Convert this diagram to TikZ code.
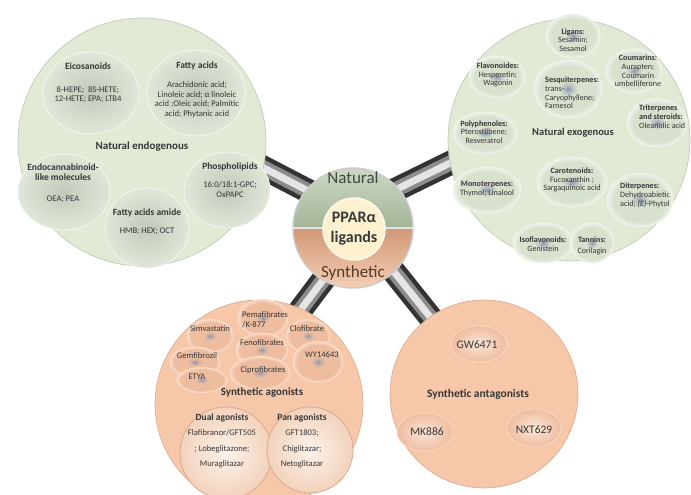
\documentclass[tikz,border=0pt]{standalone}
\usepackage{fontspec}
\setmainfont{Carlito}
\usetikzlibrary{shapes.geometric}

\pgfdeclarelayer{bg}
\pgfsetlayers{bg,main}

\definecolor{greenbg}{RGB}{226,234,214}
\definecolor{greenedge}{RGB}{186,198,174}
\definecolor{ellin}{RGB}{194,201,188}
\definecolor{ellout}{RGB}{224,230,216}
\definecolor{exoin}{RGB}{216,224,206}
\definecolor{exoout}{RGB}{238,242,232}
\definecolor{blobc}{RGB}{138,148,172}
\definecolor{peach}{RGB}{246,199,169}
\definecolor{peachedge}{RGB}{216,170,142}
\definecolor{agin}{RGB}{238,189,160}
\definecolor{agout}{RGB}{250,216,194}
\definecolor{creamin}{RGB}{253,243,234}
\definecolor{creamout}{RGB}{242,210,188}
\definecolor{hubtop}{RGB}{204,216,194}
\definecolor{hubmid}{RGB}{164,180,152}
\definecolor{hubsal}{RGB}{210,152,120}
\definecolor{hubbot}{RGB}{244,206,180}
\definecolor{cream}{RGB}{253,241,208}
\definecolor{txt}{RGB}{55,55,55}
\definecolor{natc}{RGB}{58,74,64}
\definecolor{sync}{RGB}{84,56,40}

\pgfdeclareradialshading{exoblob}{\pgfpoint{0bp}{0bp}}{color(0bp)=(blobc); color(3bp)=(blobc!45!exoin); color(7bp)=(exoin); color(20bp)=(exoin); color(25bp)=(exoout); color(50bp)=(exoout)}
\pgfdeclareradialshading{agblob}{\pgfpoint{0bp}{0bp}}{color(0bp)=(blobc); color(3bp)=(blobc!40!agin); color(7bp)=(agin); color(21bp)=(agin); color(25bp)=(agout); color(50bp)=(agout)}

\newcommand\grp[1]{{\bfseries\fontsize{9.5}{10.5}\selectfont #1}}

\tikzset{
  bigcirc/.style={circle, inner sep=0pt, line width=0.6pt},
  endoell/.style={ellipse, inner sep=0pt, inner color=ellin, outer color=ellout, draw=white!60!greenbg, line width=0.8pt},
  exoell/.style={ellipse, inner sep=0pt, shade, shading=exoblob, draw=white!50!greenbg, line width=0.8pt},
  agell/.style={ellipse, inner sep=0pt, shade, shading=agblob, draw=white!40!peach, line width=0.8pt},
  antell/.style={ellipse, inner sep=0pt, inner color=white!55!peach, outer color=agin, draw=white!30!peach, line width=0.8pt},
  subcirc/.style={circle, inner sep=0pt, inner color=creamin, outer color=creamout, draw=peachedge, line width=0.8pt},
  lbl/.style={align=center, inner sep=0pt, text=txt, font=\fontsize{8.6}{9.6}\selectfont},
  exolbl/.style={lbl, font=\fontsize{8.1}{8.7}\selectfont},
  head/.style={inner sep=0pt, text=txt, font=\bfseries\fontsize{11}{12}\selectfont},
  rod/.style={draw=black!80, line width=24pt, shorten <=-10pt, shorten >=-10pt,
    postaction={draw=black!45, line width=15pt, shorten <=-10pt, shorten >=-10pt},
    postaction={draw=white!90!black, line width=7pt, shorten <=-10pt, shorten >=-10pt}}
}

\begin{document}
\begin{tikzpicture}[x=1pt,y=1pt]
\useasboundingbox (0,0) rectangle (691,495);

% natural endogenous
\node[bigcirc, fill=greenbg, draw=greenedge, minimum size=248pt] (endo) at (142,353) {};
\node[endoell, minimum width=96pt, minimum height=82pt] (eico) at (91,402) {};
\node[endoell, minimum width=98pt, minimum height=86pt] (fatty) at (196,402) {};
\node[endoell, minimum width=92pt, minimum height=76pt] (endoc) at (64,303) {};
\node[endoell, minimum width=86pt, minimum height=76pt] (phos) at (227,305) {};
\node[endoell, minimum width=84pt, minimum height=80pt] (amide) at (147,267) {};
\node[lbl] (eicot) at (88,412) {\grp{Eicosanoids}\\[13pt]8-HEPE;\ \ 8S-HETE;\\12-HETE; EPA; LTB4};
\node[lbl] (fattyt) at (197,405) {\grp{Fatty acids}\\[9pt]Arachidonic acid;\\Linoleic acid; α linoleic\\acid ;Oleic acid; Palmitic\\acid; Phytanic acid};
\node[lbl] (endoct) at (63,312) {\grp{Endocannabinoid-}\\[1pt]\grp{like molecules}\\[11pt]OEA; PEA};
\node[lbl] (phost) at (230,315) {\grp{Phospholipids}\\[9pt]16:0/18:1-GPC;\\OxPAPC};
\node[lbl] (amidet) at (147,273) {\grp{Fatty acids amide}\\[8pt]HMB; HEX; OCT};
\node[head] (endol) at (142,348) {Natural endogenous};

% natural exogenous
\node[bigcirc, fill=greenbg, draw=greenedge, minimum size=242pt] (exo) at (569,355) {};
\foreach \n/\x/\y/\w/\h in {lig/573/459/54/44, coum/634/424/56/44, sesq/568/406/68/58,
  flav/497/418/56/42, poly/485/362/64/42, trit/657/372/60/48, caro/572/313/70/50,
  mono/487/305/68/46, dite/640/295/66/54, isof/543/252/60/40, tann/592/252/44/40}
  \node[exoell, minimum width=\w pt, minimum height=\h pt] (\n) at (\x,\y) {};
\node[exolbl] (ligt) at (573,455) {\textbf{Ligans:}\\Sesamin;\\Sesamol};
\node[exolbl] (flavt) at (498,420) {\textbf{Flavonoides:}\\Hesperetin;\\Wagonin};
\node[exolbl] (coumt) at (638,424) {\textbf{Coumarins:}\\Aurapten;\\Coumarin\\umbelliferone};
\node[exolbl, align=left, anchor=north west] (sesqt) at (545,418) {\textbf{Sesquiterpenes:}\\trans-\\Caryophyllene;\\Farnesol};
\node[exolbl, align=left, anchor=north west] (tritt) at (639,390) {\textbf{Triterpenes}\\\textbf{and steroids:}\\Oleanolic acid};
\node[exolbl] (polyt) at (484,363) {\textbf{Polyphenoles:}\\Pterostilbene;\\Resveratrol};
\node[exolbl] (carot) at (572,315) {\textbf{Carotenoids:}\\Fucoxanthin ;\\Sargaquinoic acid};
\node[exolbl] (monot) at (487,306) {\textbf{Monoterpenes:}\\Thymol; Linalool};
\node[exolbl, align=left, anchor=north west] (ditet) at (620,312) {\textbf{Diterpenes:}\\Dehydroabietic\\acid; \textit{(E)}-Phytol};
\node[exolbl] (isoft) at (543,251) {\textbf{Isoflavonoids:}\\Genistein};
\node[exolbl] (tannt) at (592,249) {\textbf{Tannins:}\\[3pt]Corilagin};
\node[head, font=\bfseries\fontsize{10.5}{12}\selectfont] (exol) at (573,362) {Natural exogenous};

% synthetic agonists
\node[bigcirc, fill=peach, draw=peachedge, minimum size=208pt] (agon) at (259,91) {};
\foreach \n/\x/\y/\w/\h in {pema/263/177/50/37, simv/210/159/46/33, clof/308/159/44/33,
  feno/262/145/52/34, gemf/195/133/50/30, wy/318/133/50/41, cipr/260/122/60/33, etya/202/115/50/25}
  \node[agell, minimum width=\w pt, minimum height=\h pt] (\n) at (\x,\y) {};
\node[lbl, align=left, anchor=west] (pemat) at (242,175) {Pemafibrates\\/K-877};
\node[lbl] (simvt) at (210,166) {Simvastatin};
\node[lbl] (cloft) at (307,166) {Clofibrate};
\node[lbl] (fenot) at (262,152) {Fenofibrates};
\node[lbl] (gemft) at (197,139) {Gemfibrozil};
\node[lbl] (wyt) at (322,140) {WY14643};
\node[lbl] (ciprt) at (263,125) {Ciprofibrates};
\node[lbl] (etyat) at (197,118) {ETYA};
\node[head] (agonl) at (262,102) {Synthetic agonists};
\node[subcirc, minimum size=92pt] (dual) at (226,42) {};
\node[subcirc, minimum size=86pt] (pan) at (310,45) {};
\node[lbl] (dualt) at (222,54) {\grp{Dual agonists}\\[6pt]Flafibranor/GFT505\\[6pt]; Lobeglitazone;\\[6pt]Muraglitazar};
\node[lbl] (pant) at (302,54) {\grp{Pan agonists}\\[6pt]GFT1803;\\[6pt]Chiglitazar;\\[6pt]Netoglitazar};

% synthetic antagonists
\node[bigcirc, fill=peach, draw=peachedge, minimum size=188pt] (antag) at (484,101) {};
\node[antell, minimum width=56pt, minimum height=36pt] (gw) at (479,151) {};
\node[antell, minimum width=56pt, minimum height=38pt] (mk) at (425,63) {};
\node[antell, minimum width=54pt, minimum height=38pt] (nxt) at (534,67) {};
\node[lbl, font=\fontsize{11.5}{12}\selectfont] (gwt) at (477,150) {GW6471};
\node[lbl, font=\fontsize{11.5}{12}\selectfont] (mkt) at (427,63) {MK886};
\node[lbl, font=\fontsize{11.5}{12}\selectfont] (nxtt) at (534,65) {NXT629};
\node[head, font=\bfseries\fontsize{11.5}{12}\selectfont] (antagl) at (478,101) {Synthetic antagonists};

% hub
\shade[top color=hubtop, bottom color=hubmid] (293,267) arc[start angle=180, end angle=0, radius=60] -- cycle;
\shade[top color=hubsal, bottom color=hubbot] (293,267) arc[start angle=180, end angle=360, radius=60] -- cycle;
\node[circle, draw=gray!40, line width=1.5pt, minimum size=120pt, inner sep=0pt] (hub) at (353,267) {};
\draw[white!80!gray, line width=1.2pt] (hub.west) -- (hub.east);
\node[circle, fill=cream, draw=white!60!cream, line width=1.5pt, minimum size=62pt, inner sep=0pt, align=center,
  text=txt, font=\bfseries\fontsize{16}{20}\selectfont] (ppar) at (354,266) {PPARα\\ligands};
\node[text=natc, font=\fontsize{17}{18}\selectfont] (nat) at (353,317) {Natural};
\node[text=sync, font=\fontsize{17}{18}\selectfont] (syn) at (353,222) {Synthetic};

% rods
\begin{pgfonlayer}{bg}
\draw[rod] (hub.141) -- (endo.-12);
\draw[rod] (hub.41) -- (exo.191);
\draw[rod] (hub.240) -- (agon.66);
\draw[rod] (hub.-47) -- (antag.125);
\end{pgfonlayer}
\end{tikzpicture}
\end{document}
